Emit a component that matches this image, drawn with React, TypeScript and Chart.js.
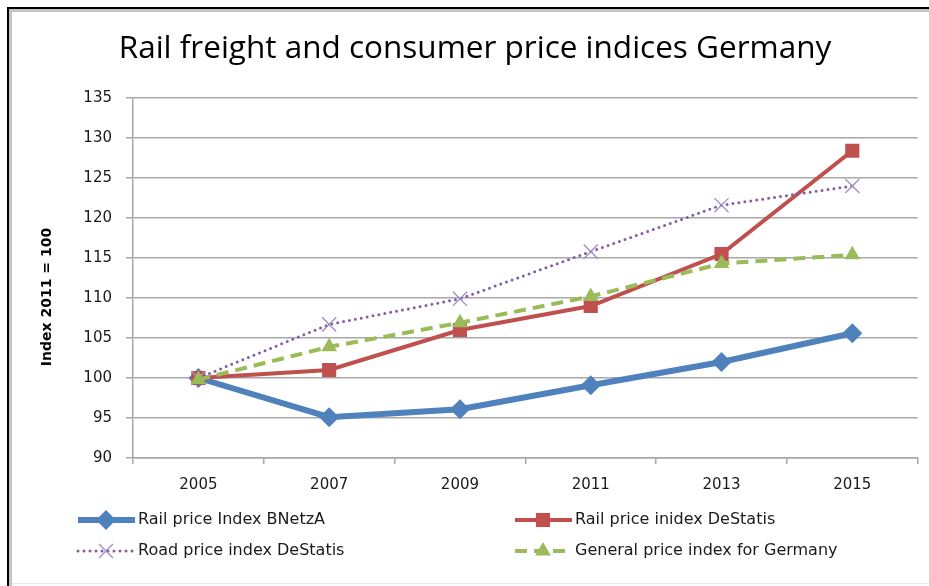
import React, { useEffect, useRef } from "react";
import { Chart, registerables } from "chart.js";

Chart.register(...registerables);

const title = "Rail freight and consumer price indices Germany";
const yAxisTitle = "Index 2011 = 100";
const years = ["2005", "2007", "2009", "2011", "2013", "2015"];
const railBNetzA = [100, 95.1, 96.1, 99.1, 102, 105.6];
const railDeStatis = [100, 101, 106, 109, 115.5, 128.4];
const roadDeStatis = [100, 106.7, 109.9, 115.8, 121.6, 124];
const generalGermany = [99.8, 103.9, 106.9, 110.2, 114.3, 115.4];
const seriesNames = [
  "Rail price Index BNetzA",
  "Rail price inidex DeStatis",
  "Road price index DeStatis",
  "General price index for Germany",
];

const FONT = "'DejaVu Sans', 'Open Sans', sans-serif";
const TITLE_FONT = "'Open Sans', Lato, sans-serif";
const BLUE = "#4f81bd";
const RED = "#c0504d";
const PURPLE = "#7f60a6";
const PURPLE_LIGHT = "#a08cc8";
const GREEN = "#9bbb59";
const GRID = "#a8a8a8";

function drawMarker(ctx: CanvasRenderingContext2D, style: string, x: number, y: number, r: number, fill: string, stroke: string) {
  ctx.save();
  ctx.fillStyle = fill;
  ctx.strokeStyle = stroke;
  ctx.setLineDash([]);
  ctx.beginPath();
  if (style === "rectRot") {
    ctx.moveTo(x, y - r);
    ctx.lineTo(x + r, y);
    ctx.lineTo(x, y + r);
    ctx.lineTo(x - r, y);
    ctx.closePath();
    ctx.fill();
  } else if (style === "rect") {
    const s = r * Math.SQRT1_2;
    ctx.rect(x - s, y - s, 2 * s, 2 * s);
    ctx.fill();
  } else if (style === "triangle") {
    ctx.moveTo(x, y - r);
    ctx.lineTo(x + r * 0.87, y + r * 0.5);
    ctx.lineTo(x - r * 0.87, y + r * 0.5);
    ctx.closePath();
    ctx.fill();
  } else if (style === "crossRot") {
    ctx.lineWidth = 1.3;
    const s = r * 0.7;
    ctx.moveTo(x - s, y - s);
    ctx.lineTo(x + s, y + s);
    ctx.moveTo(x + s, y - s);
    ctx.lineTo(x - s, y + s);
    ctx.stroke();
  }
  ctx.restore();
}

const framePlugin = {
  id: "frame",
  beforeDraw(chart: any) {
    const ctx = chart.ctx as CanvasRenderingContext2D;
    ctx.save();
    ctx.fillStyle = "#ffffff";
    ctx.fillRect(0, 0, chart.width, chart.height);
    ctx.fillStyle = "#c4c4c4";
    ctx.fillRect(9, 9, chart.width - 9, 3);
    ctx.fillRect(9, 9, 3, chart.height - 9);
    ctx.fillStyle = "#e6e6e6";
    ctx.fillRect(12, chart.height - 3, chart.width - 12, 1);
    ctx.fillStyle = "#000000";
    ctx.fillRect(7, 7, chart.width - 7, 2);
    ctx.fillRect(7, 7, 2, chart.height - 7);
    ctx.restore();
  },
};

const legendPlugin = {
  id: "customLegend",
  afterDraw(chart: any) {
    const ctx = chart.ctx as CanvasRenderingContext2D;
    const { left, bottom, top } = chart.chartArea;
    const pos = [
      { x: left - 55, y: bottom + 62 },
      { x: left + 382, y: bottom + 62 },
      { x: left - 55, y: bottom + 93 },
      { x: left + 382, y: bottom + 93 },
    ];
    chart.data.datasets.forEach((ds: any, i: number) => {
      const p = pos[i];
      ctx.save();
      ctx.strokeStyle = ds.borderColor;
      ctx.lineWidth = ds.borderWidth;
      ctx.setLineDash(ds.borderDash || []);
      ctx.lineCap = ds.borderCapStyle || "butt";
      ctx.beginPath();
      ctx.moveTo(p.x, p.y);
      ctx.lineTo(p.x + 57, p.y);
      ctx.stroke();
      ctx.restore();
      drawMarker(ctx, ds.pointStyle, p.x + 28, p.y, ds.pointRadius, ds.pointBackgroundColor, ds.pointBorderColor);
      ctx.save();
      ctx.fillStyle = "#1a1a1a";
      ctx.font = `16px ${FONT}`;
      ctx.textBaseline = "middle";
      ctx.textAlign = "left";
      ctx.fillText(ds.label, p.x + 60, p.y);
      ctx.restore();
    });
    // y axis title
    ctx.save();
    ctx.translate(47, (top + bottom) / 2 + 19);
    ctx.rotate(-Math.PI / 2);
    ctx.fillStyle = "#000000";
    ctx.font = `bold 14px ${FONT}`;
    ctx.textAlign = "center";
    ctx.textBaseline = "middle";
    ctx.fillText(yAxisTitle, 0, 0);
    ctx.restore();
  },
};

export default function App() {
  const ref = useRef<HTMLCanvasElement>(null);
  useEffect(() => {
    document.body.style.margin = "0";
    document.body.style.overflow = "hidden";
    const chart = new Chart(ref.current!, {
      type: "line",
      data: {
        labels: years,
        datasets: [
          {
            label: seriesNames[0],
            data: railBNetzA,
            borderColor: BLUE,
            backgroundColor: BLUE,
            borderWidth: 6,
            pointStyle: "rectRot",
            pointRadius: 10,
            pointBackgroundColor: BLUE,
            pointBorderColor: BLUE,
            pointBorderWidth: 0,
            order: 4,
          },
          {
            label: seriesNames[1],
            data: railDeStatis,
            borderColor: RED,
            backgroundColor: RED,
            borderWidth: 4,
            pointStyle: "rect",
            pointRadius: 10,
            pointBackgroundColor: RED,
            pointBorderColor: RED,
            pointBorderWidth: 0,
            order: 3,
          },
          {
            label: seriesNames[2],
            data: roadDeStatis,
            borderColor: PURPLE,
            backgroundColor: PURPLE,
            borderWidth: 3,
            borderDash: [0, 6],
            borderCapStyle: "round",
            pointStyle: "crossRot",
            pointRadius: 10,
            pointBackgroundColor: PURPLE_LIGHT,
            pointBorderColor: PURPLE_LIGHT,
            pointBorderWidth: 1.3,
            order: 2,
          },
          {
            label: seriesNames[3],
            data: generalGermany,
            borderColor: GREEN,
            backgroundColor: GREEN,
            borderWidth: 4,
            borderDash: [12, 7],
            pointStyle: "triangle",
            pointRadius: 9,
            pointBackgroundColor: GREEN,
            pointBorderColor: GREEN,
            pointBorderWidth: 0,
            order: 1,
          },
        ] as any,
      },
      options: {
        animation: false,
        responsive: false,
        devicePixelRatio: 1,
        layout: { padding: { left: 28, right: 7, top: 10, bottom: 88 } },
        plugins: {
          legend: { display: false },
          tooltip: { enabled: false },
          title: {
            display: true,
            text: title,
            color: "#000000",
            font: { family: TITLE_FONT, size: 31.5, weight: "normal" },
            padding: { top: 20, bottom: 30.2 },
          },
        },
        scales: {
          x: {
            type: "category",
            offset: true,
            grid: {
              offset: true,
              drawOnChartArea: false,
              drawTicks: true,
              tickLength: 6,
              color: GRID,
              lineWidth: 1.5,
            },
            border: { color: GRID, width: 1.5 },
            ticks: { color: "#1a1a1a", font: { family: FONT, size: 15 }, padding: 12, maxRotation: 0 },
            afterFit: (s: any) => {
              s.height = 40;
            },
          },
          y: {
            min: 90,
            max: 135,
            grid: { color: GRID, lineWidth: 1.5, tickLength: 7 },
            border: { color: GRID, width: 1.5 },
            ticks: { stepSize: 5, color: "#1a1a1a", font: { family: FONT, size: 15 }, padding: 14 },
            afterFit: (s: any) => {
              s.width = 105;
            },
          },
        },
      } as any,
      plugins: [framePlugin, legendPlugin],
    });
    return () => chart.destroy();
  }, []);
  return <canvas ref={ref} width={929} height={586} style={{ display: "block", width: 929, height: 586 }} />;
}
